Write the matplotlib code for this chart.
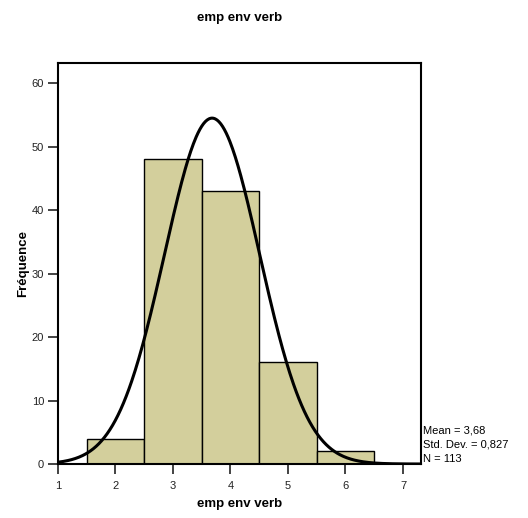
import matplotlib.pyplot as plt
import numpy as np

plt.rcParams['font.family'] = ['Liberation Sans', 'DejaVu Sans']

bin_centers = [2, 3, 4, 5, 6]
counts = [4, 48, 43, 16, 2]
mean = 3.68
std = 0.827
n = 113
bin_width = 1.0

fig = plt.figure(figsize=(5.28, 5.18), dpi=100)
ax = fig.add_axes([0.1098, 0.1042, 0.797 - 0.1098, 0.879 - 0.1042])

ax.bar(bin_centers, counts, width=bin_width, color='#d3cf9c', edgecolor='black', linewidth=1.0, zorder=2)

# normal curve scaled to counts
xs = np.linspace(1, 7.31, 400)
ys = n * bin_width / (std * np.sqrt(2 * np.pi)) * np.exp(-0.5 * ((xs - mean) / std) ** 2)
ax.plot(xs, ys, color='black', linewidth=2.2, zorder=3)

ax.set_xlim(1, 7.31)
ax.set_ylim(0, 63.25)
ax.set_xticks([1, 2, 3, 4, 5, 6, 7])
ax.set_yticks([0, 10, 20, 30, 40, 50, 60])

for s in ax.spines.values():
    s.set_linewidth(1.5)
ax.tick_params(direction='out', length=7, width=1.2, labelsize=8, colors='#222222', pad=3)
ax.tick_params(axis='x', pad=5)

ax.set_title('emp env verb', fontsize=9.5, fontweight='bold', pad=30)
ax.set_xlabel('emp env verb', fontsize=9.5, fontweight='bold', labelpad=5)
ax.set_ylabel('Fréquence', fontsize=9.5, fontweight='bold', labelpad=2)

ax.text(1.005, 0.0, 'Mean = 3,68\nStd. Dev. = 0,827\nN = 113', transform=ax.transAxes,
        fontsize=8, va='bottom', ha='left', linespacing=1.55)

plt.savefig('out.png', dpi=100)
